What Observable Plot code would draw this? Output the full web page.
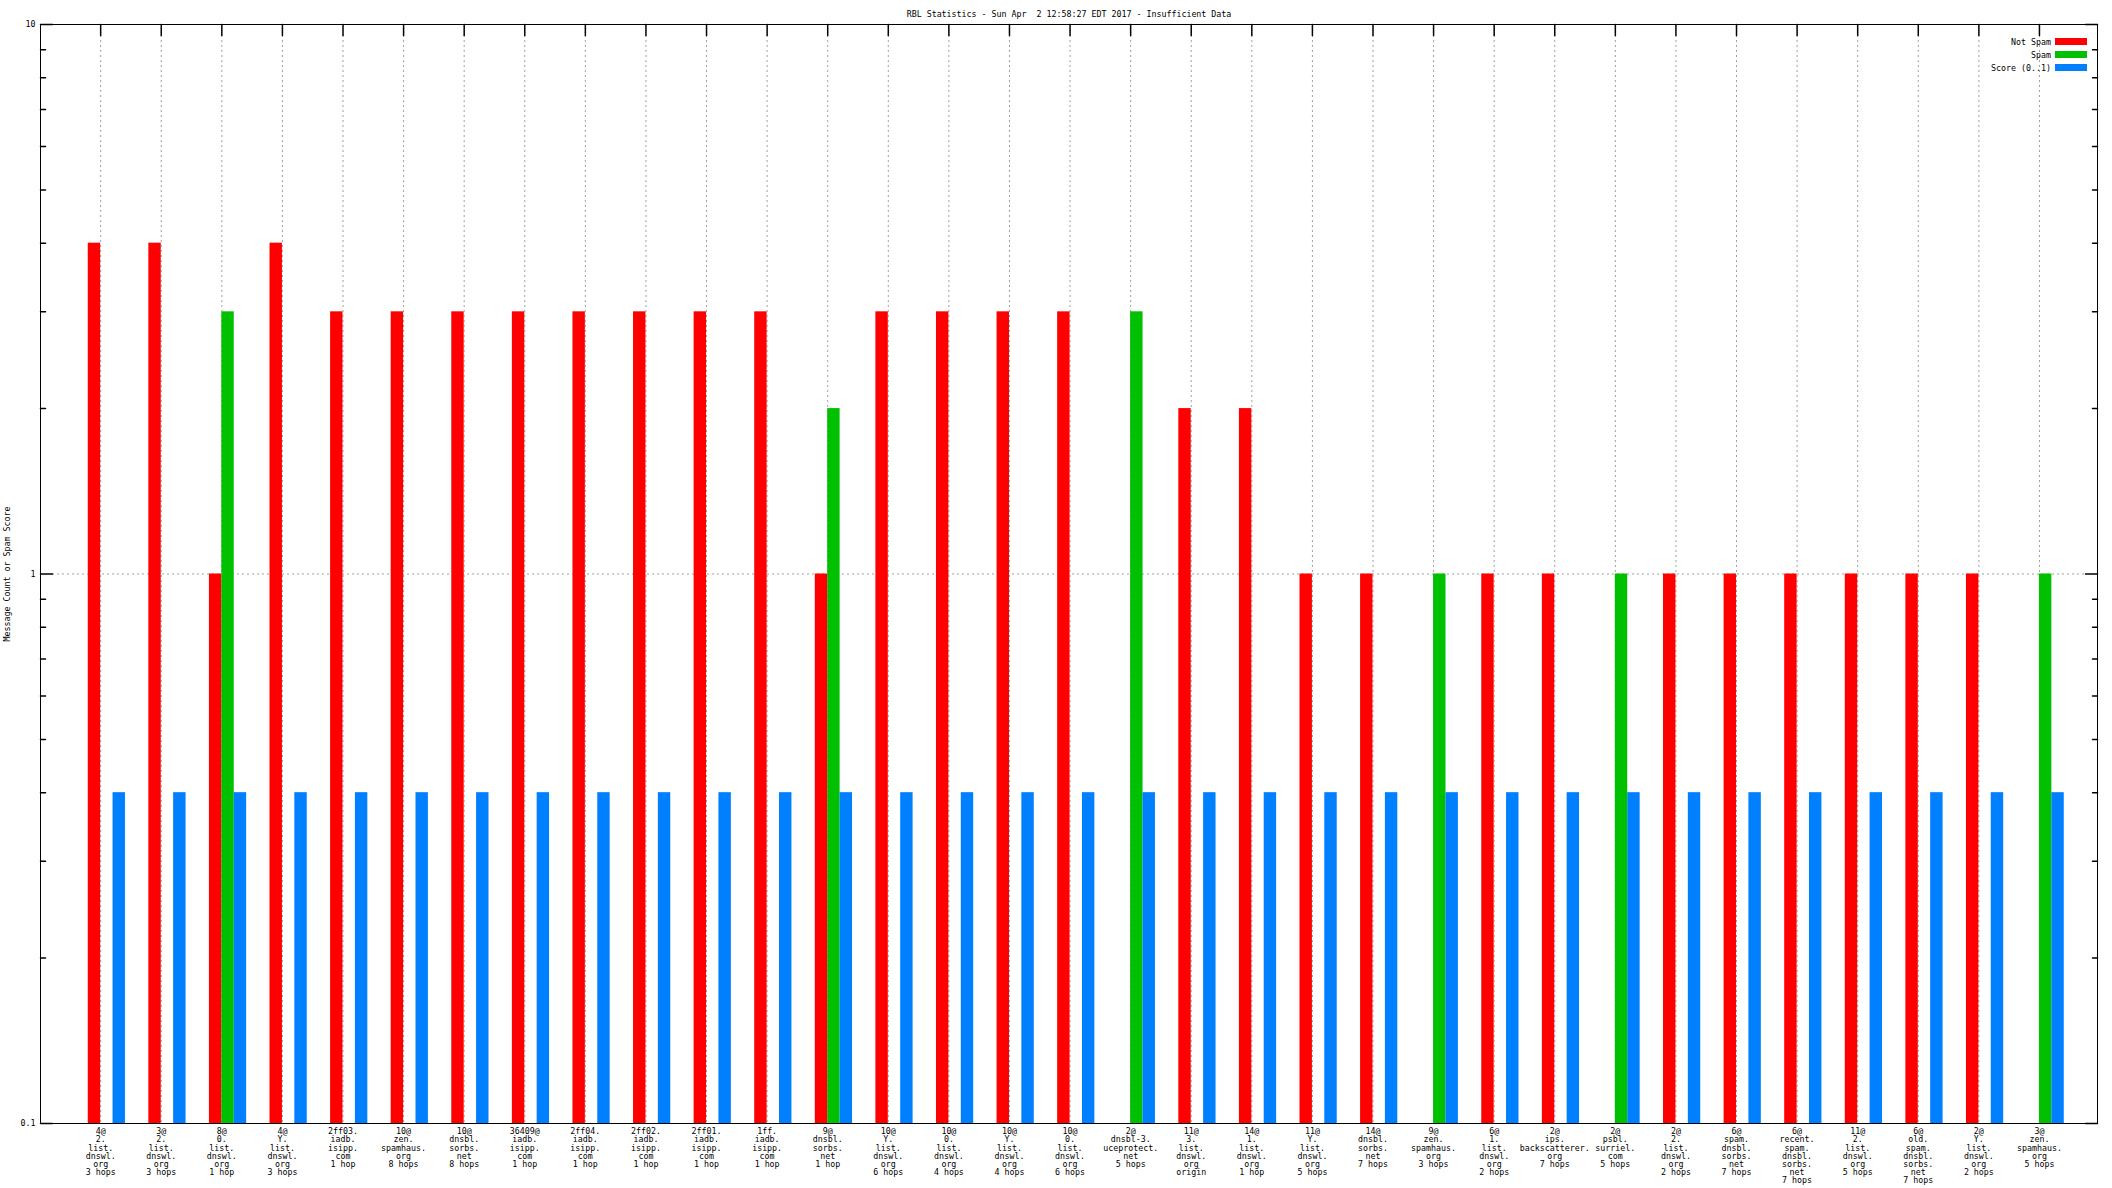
<!DOCTYPE html>
<html><head><meta charset="utf-8">
<script src="https://cdn.jsdelivr.net/npm/d3@7"></script>
<script src="https://cdn.jsdelivr.net/npm/@observablehq/plot@0.6"></script>
<style>
html,body{margin:0;padding:0;background:#fff;overflow:hidden}
#wrap{position:relative;width:2112px;height:1188px}
svg text{white-space:pre}
#legend{position:absolute;top:35px;right:25px;font-family:"DejaVu Sans Mono";font-size:8.3px;color:#000}
.row{display:flex;justify-content:flex-end;align-items:center;height:13px}
.sw{width:32px;height:7px;margin-left:4px}
</style></head><body><div id="wrap"><div id="legend"></div></div>
<script>
const title = "RBL Statistics - Sun Apr  2 12:58:27 EDT 2017 - Insufficient Data";
const yLabel = "Message Count or Spam Score";
const categories = [
"4@\n2.\nlist.\ndnswl.\norg\n3 hops",
"3@\n2.\nlist.\ndnswl.\norg\n3 hops",
"8@\n0.\nlist.\ndnswl.\norg\n1 hop",
"4@\nY.\nlist.\ndnswl.\norg\n3 hops",
"2ff03.\niadb.\nisipp.\ncom\n1 hop",
"10@\nzen.\nspamhaus.\norg\n8 hops",
"10@\ndnsbl.\nsorbs.\nnet\n8 hops",
"36409@\niadb.\nisipp.\ncom\n1 hop",
"2ff04.\niadb.\nisipp.\ncom\n1 hop",
"2ff02.\niadb.\nisipp.\ncom\n1 hop",
"2ff01.\niadb.\nisipp.\ncom\n1 hop",
"1ff.\niadb.\nisipp.\ncom\n1 hop",
"9@\ndnsbl.\nsorbs.\nnet\n1 hop",
"10@\nY.\nlist.\ndnswl.\norg\n6 hops",
"10@\n0.\nlist.\ndnswl.\norg\n4 hops",
"10@\nY.\nlist.\ndnswl.\norg\n4 hops",
"10@\n0.\nlist.\ndnswl.\norg\n6 hops",
"2@\ndnsbl-3.\nuceprotect.\nnet\n5 hops",
"11@\n3.\nlist.\ndnswl.\norg\norigin",
"14@\n1.\nlist.\ndnswl.\norg\n1 hop",
"11@\nY.\nlist.\ndnswl.\norg\n5 hops",
"14@\ndnsbl.\nsorbs.\nnet\n7 hops",
"9@\nzen.\nspamhaus.\norg\n3 hops",
"6@\n1.\nlist.\ndnswl.\norg\n2 hops",
"2@\nips.\nbackscatterer.\norg\n7 hops",
"2@\npsbl.\nsurriel.\ncom\n5 hops",
"2@\n2.\nlist.\ndnswl.\norg\n2 hops",
"6@\nspam.\ndnsbl.\nsorbs.\nnet\n7 hops",
"6@\nrecent.\nspam.\ndnsbl.\nsorbs.\nnet\n7 hops",
"11@\n2.\nlist.\ndnswl.\norg\n5 hops",
"6@\nold.\nspam.\ndnsbl.\nsorbs.\nnet\n7 hops",
"2@\nY.\nlist.\ndnswl.\norg\n2 hops",
"3@\nzen.\nspamhaus.\norg\n5 hops"
];
const notSpam = [4,4,1,4,3,3,3,3,3,3,3,3,1,3,3,3,3,0,2,2,1,1,0,1,1,0,1,1,1,1,1,1,0];
const spam    = [0,0,3,0,0,0,0,0,0,0,0,0,2,0,0,0,0,3,0,0,0,0,1,0,0,1,0,0,0,0,0,0,1];
const score   = [0.4,0.4,0.4,0.4,0.4,0.4,0.4,0.4,0.4,0.4,0.4,0.4,0.4,0.4,0.4,0.4,0.4,0.4,0.4,0.4,0.4,0.4,0.4,0.4,0.4,0.4,0.4,0.4,0.4,0.4,0.4,0.4,0.4];
const seriesNames = ["Not Spam", "Spam", "Score (0..1)"];
const seriesColors = ["#ff0000", "#00c000", "#0080ff"];
const majorTicks = [0.1, 1, 10];
const minorTicks = [0.2,0.3,0.4,0.5,0.6,0.7,0.8,0.9,2,3,4,5,6,7,8,9];

const seriesValues = [notSpam, spam, score];
const rows = [];
categories.forEach((c, i) => seriesNames.forEach((s, k) => rows.push({cat: c, series: s, value: seriesValues[k][i]})));
const bw = 12.4;
const dxs = [-bw/2, bw/2, bw*1.5];
const tickShape = {draw(context, l) { context.moveTo(0, 0); context.lineTo(0, -l); }};
const gridStyle = {stroke: "#a0a0a0", strokeDasharray: "2,3", strokeWidth: 1};

const chart = Plot.plot({
  width: 2112, height: 1188,
  marginTop: 24, marginBottom: 65, marginLeft: 40, marginRight: 15,
  style: {fontFamily: "DejaVu Sans Mono", fontSize: "8.3px", background: "white", color: "black"},
  x: {type: "band", domain: categories, paddingInner: 0.795, paddingOuter: 0.873, align: 0.51, round: false},
  y: {type: "log", domain: [0.1, 10]},
  marks: [
    Plot.ruleX(categories, {x: d => d, insetTop: 11, ...gridStyle}),
    Plot.ruleY([1], {y: d => d, insetLeft: 12, insetRight: 12, ...gridStyle}),
    ...seriesNames.map((s, k) => Plot.barY(rows.filter(r => r.series === s && r.value > 0),
      {x: "cat", y1: 0.1, y2: "value", fill: seriesColors[k], dx: dxs[k]})),
    Plot.frame({stroke: "black"}),
    Plot.vector(majorTicks, {y: d => d, frameAnchor: "left", length: 12, rotate: 90, anchor: "start", shape: tickShape, stroke: "black"}),
    Plot.vector(minorTicks, {y: d => d, frameAnchor: "left", length: 5, rotate: 90, anchor: "start", shape: tickShape, stroke: "black"}),
    Plot.vector(majorTicks, {y: d => d, frameAnchor: "right", length: 12, rotate: -90, anchor: "start", shape: tickShape, stroke: "black"}),
    Plot.vector(minorTicks, {y: d => d, frameAnchor: "right", length: 5, rotate: -90, anchor: "start", shape: tickShape, stroke: "black"}),
    Plot.vector(categories, {x: d => d, frameAnchor: "top", length: 11, rotate: 180, anchor: "start", shape: tickShape, stroke: "black"}),
    Plot.axisY({ticks: majorTicks, tickSize: 0, tickPadding: 5, tickFormat: d => String(d),
      label: yLabel, labelAnchor: "center", labelArrow: "none", labelOffset: 36}),
    Plot.axisX({tickSize: 0, tickPadding: 5, lineHeight: 0.98, label: null}),
    Plot.text([title], {frameAnchor: "top", dy: -13})
  ]
});
document.getElementById("wrap").prepend(chart);

const legend = document.getElementById("legend");
seriesNames.forEach((s, k) => {
  const row = document.createElement("div");
  row.className = "row";
  const t = document.createElement("span");
  t.textContent = s;
  const sw = document.createElement("div");
  sw.className = "sw";
  sw.style.background = seriesColors[k];
  row.append(t, sw);
  legend.append(row);
});
</script>
</body></html>
